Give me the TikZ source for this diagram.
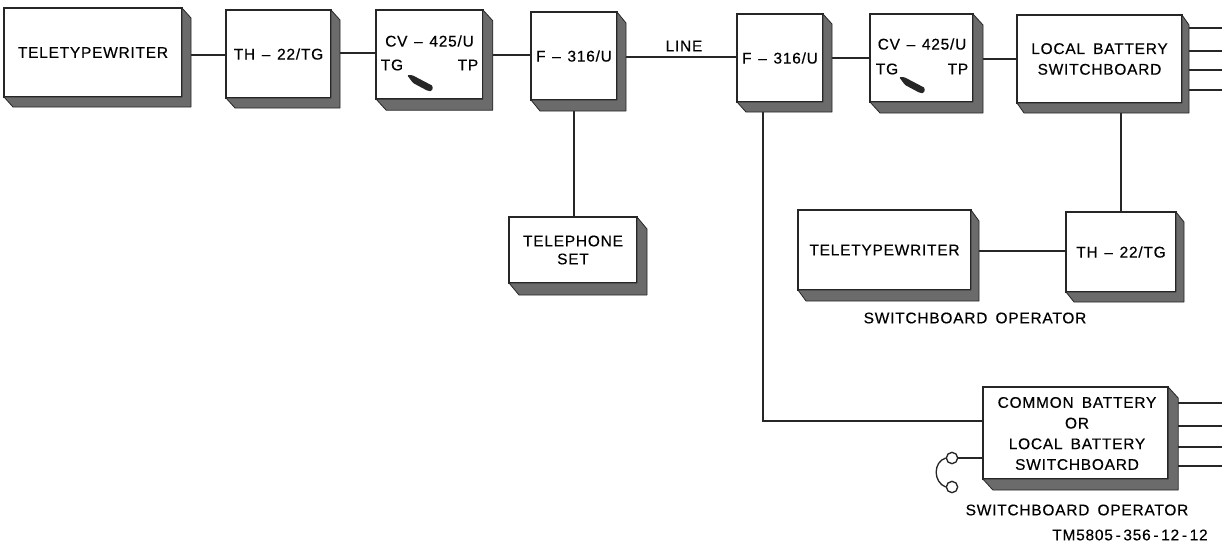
\documentclass[tikz,border=0pt]{standalone}
\usepackage{fontspec}
\usetikzlibrary{calc}
\setmainfont[LetterSpace=5,WordSpace=1.6,FakeBold=0.4]{Liberation Sans}
\newcommand{\widedash}{\kern5pt–\kern5pt}
\newcommand{\numdash}{\kern2pt-\kern2pt}
\tikzset{
  blockbox/.style={draw=black!85, fill=white, line width=1.1pt, inner sep=0pt, outer sep=0pt, align=center},
  blocktext/.style={inner sep=0pt, align=center, font=\fontsize{11.6}{15.5}\selectfont},
  wirelink/.style={draw=black!85, line width=1pt},
  jackring/.style={draw=black!85, circle, fill=white, line width=1pt, minimum size=8.5pt, inner sep=0pt},
  blockside/.style={draw=black!85, fill=black!58, line width=.6pt, line join=round}
}
\begin{document}
\begin{tikzpicture}[x=.75pt,y=-.75pt]
    \useasboundingbox (0,0) rectangle (1224,547);
    % Blocks of the upper row
    \node[blockbox, minimum width=133.5pt, minimum height=66.75pt, blocktext] (ttya) at (93,52.5) {TELETYPEWRITER};
    \node[blockbox, minimum width=78.75pt, minimum height=66pt, blocktext] (tha) at (278.5,54) {TH\widedash 22/TG};
    \node[blockbox, minimum width=80pt, minimum height=67pt] (cva) at (429.5,54.5) {};
    \node[blockbox, minimum width=64.5pt, minimum height=66pt, blocktext] (fa) at (574,56) {F\widedash 316/U};
    \node[blockbox, minimum width=64.5pt, minimum height=66pt, blocktext] (fb) at (780,58) {F\widedash 316/U};
    \node[blockbox, minimum width=77.25pt, minimum height=66pt] (cvb) at (921.5,58) {};
    \node[blockbox, minimum width=123.75pt, minimum height=66pt, blocktext] (lsb) at (1099.5,59) {LOCAL BATTERY\\SWITCHBOARD};
    % Blocks below
    \node[blockbox, minimum width=96pt, minimum height=49.5pt, blocktext] (tel) at (573,250) {TELEPHONE\\[-2pt]SET};
    \node[blockbox, minimum width=129.75pt, minimum height=60pt, blocktext] (ttyb) at (884.5,250) {TELETYPEWRITER};
    \node[blockbox, minimum width=82.5pt, minimum height=60pt, blocktext] (thb) at (1121,252) {TH\widedash 22/TG};
    \node[blockbox, minimum width=139pt, minimum height=69pt] (cbs) at (1075.5,433) {};
    % Labels inside the two selector blocks
    \node[blocktext] (cvaname) at (429.5,41) {CV\widedash 425/U};
    \node[blocktext] (cvatg) at (392,65) {TG};
    \node[blocktext] (cvatp) at (468,65) {TP};
    \node[blocktext] (cvbname) at (922,44) {CV\widedash 425/U};
    \node[blocktext] (cvbtg) at (887,69) {TG};
    \node[blocktext] (cvbtp) at (958,69) {TP};
    \node[blocktext] (cbsname) at (1077,433.5) {COMMON BATTERY\\OR\\LOCAL BATTERY\\SWITCHBOARD};
    % Labels outside the blocks
    \node[blocktext] (linelabel) at (684,46) {LINE};
    \node[blocktext] (opa) at (975,318) {SWITCHBOARD OPERATOR};
    \node[blocktext] (opb) at (1077,510) {SWITCHBOARD OPERATOR};
    \node[blocktext] (tmno) at (1130,535) {TM5805\numdash 356\numdash 12\numdash 12};
    % Selector handles
    \fill[black!85, rounded corners=1pt] (407,75) -- (412,75) -- (433,86) -- (432,91) -- (428,91) -- (413,83) -- cycle;
    \fill[black!85, rounded corners=1pt] (899,77) -- (904,77) -- (925,88) -- (924,93) -- (920,93) -- (905,85) -- cycle;
    % Links of the upper row
    \foreach \from/\to/\y in {ttya/tha/55, tha/cva/53, cva/fa/55, fa/fb/57, fb/cvb/58, cvb/lsb/59}
        \draw[wirelink] (\from.east |- 0,\y) -- (\to.west |- 0,\y);
    \draw[wirelink] (fa.south) -- (fa.south |- tel.north);
    \draw[wirelink] (thb.north |- lsb.south) -- (thb.north);
    \draw[wirelink] (ttyb.east |- 0,251) -- (thb.west |- 0,251);
    \coordinate (fbdrop) at (763,102);
    \draw[wirelink] (fbdrop) -- (fbdrop |- 0,421) -- (cbs.west |- 0,421);
    % Lines leaving the switchboards
    \foreach \y in {28,51,70,90} {
        \coordinate (lsbend\y) at (1222,\y);
        \draw[wirelink] (lsb.east |- lsbend\y) -- (lsbend\y);
    }
    \foreach \y in {403,426,447,466} {
        \coordinate (cbsend\y) at (1222,\y);
        \draw[wirelink] (cbs.east |- cbsend\y) -- (cbsend\y);
    }
    % Operator jack
    \node[jackring] (ringa) at (952,458) {};
    \node[jackring] (ringb) at (952,487) {};
    \draw[wirelink] (ringa) -- (cbs.west |- ringa);
    \draw[wirelink] (ringa.west) .. controls (933,462) and (933,482) .. (ringb.west);
    % Sides of the blocks
    \foreach \block/\dx/\dy in {ttya/9/10, tha/9/10, cva/10/11, fa/9/11, fb/9/10, cvb/10/11, lsb/7/10, tel/10/12, ttyb/8/11, thb/8/10, cbs/10/11}
        \draw[blockside] (\block.north east) -- ++(\dx,\dy) -- ($(\block.south east)+(\dx,\dy)$) -- ($(\block.south west)+(\dx,\dy)$) -- (\block.south west) -- (\block.south east) -- cycle;
\end{tikzpicture}
\end{document}
